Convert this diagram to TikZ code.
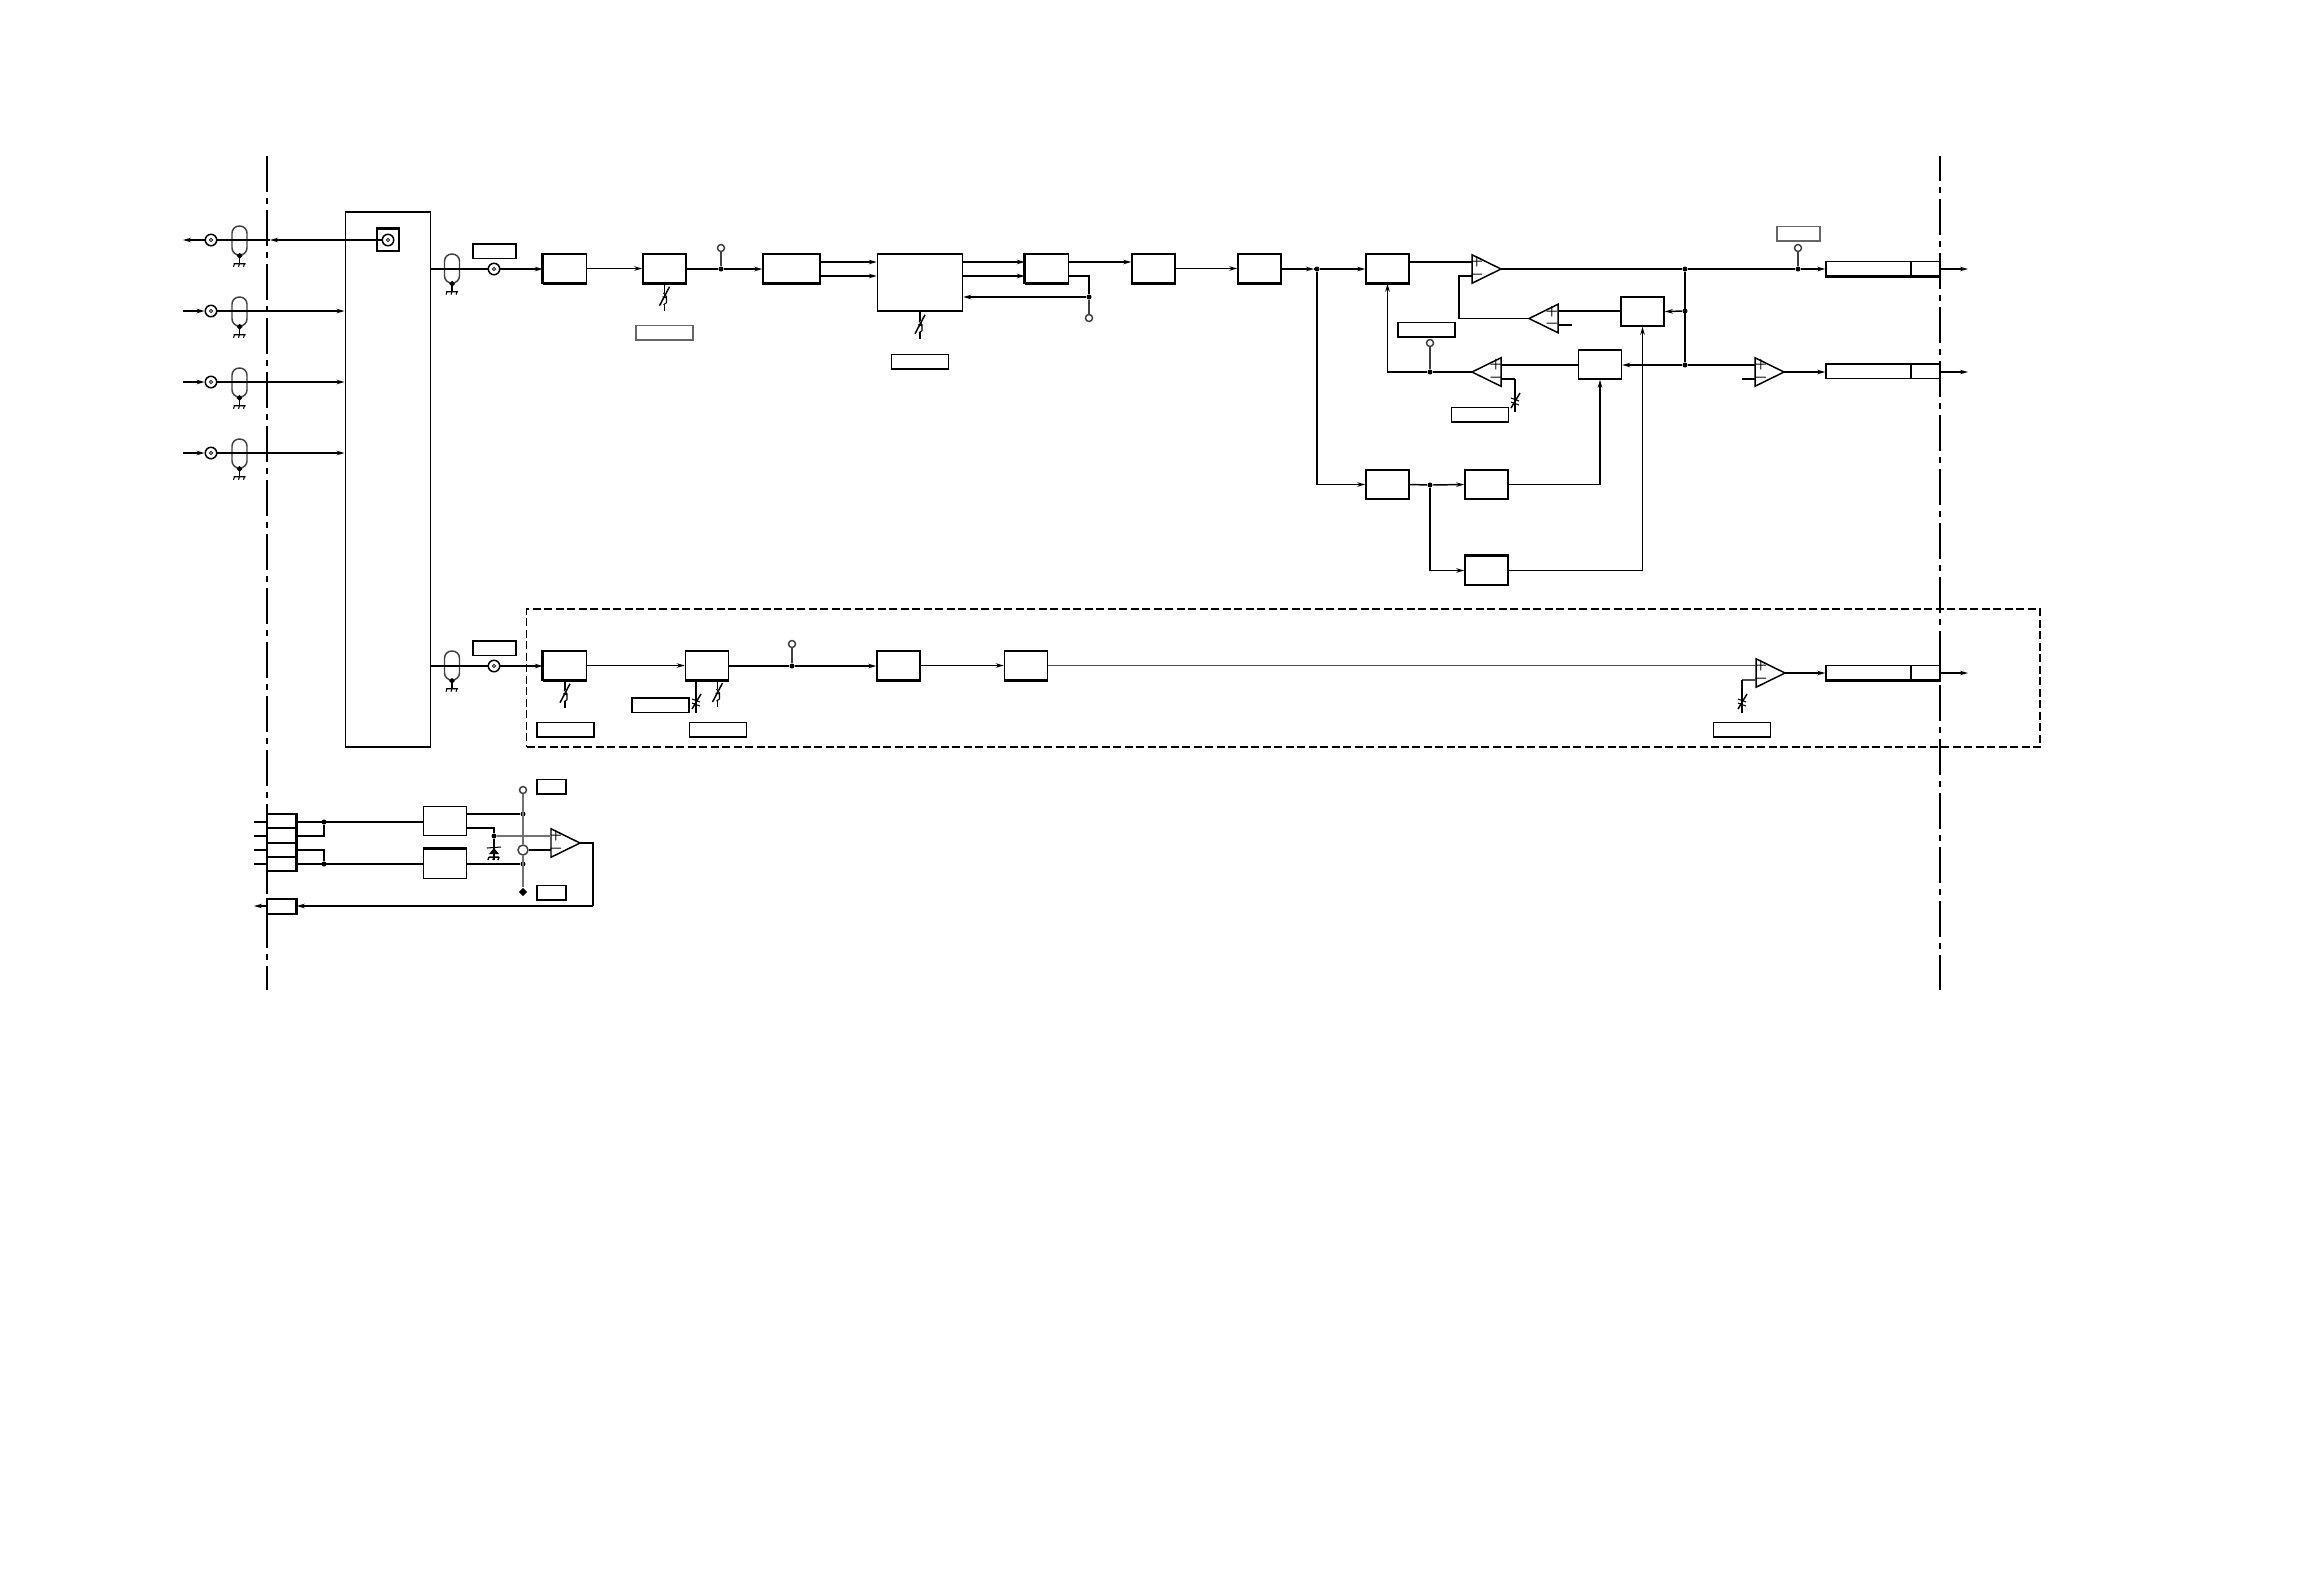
\documentclass[tikz,border=0pt]{standalone}
\usetikzlibrary{shapes.geometric, arrows.meta, positioning, calc}

\begin{document}
\begin{tikzpicture}[
        x=0.1mm, y=-0.1mm,
        line width=0.42pt,
        blockbox/.style={rectangle, draw=black, inner sep=0pt, minimum width=4.3mm, minimum height=2.9mm},
        tagbox/.style={rectangle, draw=black, inner sep=0pt, minimum width=5.7mm, minimum height=1.45mm},
        shorttag/.style={tagbox, minimum width=4.3mm},
        tinytag/.style={tagbox, minimum width=2.9mm},
        paletag/.style={draw=black!60},
        outbox/.style={rectangle, draw=black, inner sep=0pt, minimum width=11.4mm, minimum height=1.45mm},
        bottomedge/.style={append after command={(\tikzlastnode.south west) edge[heavyedge] (\tikzlastnode.south east)}},
        topedge/.style={append after command={(\tikzlastnode.north west) edge[heavyedge] (\tikzlastnode.north east)}},
        leftedge/.style={append after command={(\tikzlastnode.north west) edge[heavyedge] (\tikzlastnode.south west)}},
        rightedge/.style={append after command={(\tikzlastnode.north east) edge[heavyedge] (\tikzlastnode.south east)}},
        heavyedge/.style={line width=0.85pt},
        opamp/.style={isosceles triangle, isosceles triangle stretches, draw=black, inner sep=0pt, outer sep=0pt, anchor=apex, minimum width=2.85mm, minimum height=2.9mm},
        sign/.style={inner sep=0pt, font=\fontsize{3.2}{3.4}\selectfont\bfseries},
        dotjoin/.style={circle, fill=black, inner sep=0pt, minimum size=0.5mm},
        openpad/.style={circle, draw=black!75, fill=white, inner sep=0pt, minimum size=0.7mm},
        coaxpad/.style={circle, draw=black, fill=white, inner sep=0pt, minimum size=1.15mm, path picture={\draw[line width=0.2pt] (path picture bounding box.center) circle (0.17mm);}},
        capsule/.style={rectangle, draw=black!75, inner sep=0pt, rounded corners=0.72mm, minimum width=1.5mm, minimum height=2.9mm},
        arrow/.style={-{Stealth[length=0.8mm, width=0.45mm]}},
        borderline/.style={line width=0.5pt, dash pattern=on 3.6mm off 0.6mm on 0.6mm off 0.6mm},
        groundpin/.pic={
            \fill (0,-3) -- (3,0) -- (0,3) -- (-3,0) -- cycle;
            \draw (0,0) -- (0,8);
            \draw[line width=0.3pt] (-6,8) -- (6,8) (-5,8) -- (-6,11) (0,8) -- (-1,11) (5,8) -- (4,11);
        },
        trimloop/.pic={
            \draw (0,0) -- (0,9) (0,20) -- (0,27);
            \draw (5,3) -- (-5,22);
            \draw[line width=0.3pt] (-1,9) -- (2,13) -- (2,19) -- (-1,21) (-2,13) -- (2,14);
        },
        trimcross/.pic={
            \draw (0,0) -- (0,33);
            \draw (5,14) -- (-4,29);
            \draw[line width=0.3pt] (-4,19) -- (4,22) (-4,23) -- (4,26);
        }
    ]
        \useasboundingbox (0,0) rectangle (2324,1588);

        \coordinate (borderLtop) at (267,156);
        \coordinate (borderLend) at (267,990);
        \coordinate (borderRtop) at (1940,156);
        \coordinate (borderRend) at (1940,990);
        \draw[borderline] (borderLtop) -- (borderLend);
        \draw[borderline, dash phase=1.1mm] (borderRtop) -- (borderRend);

        % input side
        \node[rectangle, draw=black, inner sep=0pt, minimum width=8.55mm, minimum height=53.5mm] (matrixbox) at (388,479.5) {};
        \node[rectangle, draw=black, inner sep=0pt, minimum size=2.2mm, topedge] (jackbox) at (388,240) {};
        \node[coaxpad] (jackpad) at (388,240) {};

        \coordinate (outA) at (183,240);
        \coordinate (inB) at (183,311);
        \coordinate (inC) at (183,382);
        \coordinate (inD) at (183,453);
        \coordinate (borderA) at (270,240);
        \node[coaxpad] (padA) at (211,240) {};
        \node[coaxpad] (padB) at (211,311) {};
        \node[coaxpad] (padC) at (211,382) {};
        \node[coaxpad] (padD) at (211,453) {};
        \node[capsule] (capA) at (239.5,240.5) {};
        \node[capsule] (capB) at (239.5,311.5) {};
        \node[capsule] (capC) at (239.5,382.5) {};
        \node[capsule] (capD) at (239.5,453.5) {};
        \pic at (capA.south) {groundpin};
        \pic at (capB.south) {groundpin};
        \pic at (capC.south) {groundpin};
        \pic at (capD.south) {groundpin};

        \draw[arrow] (jackpad.west) -- (borderA);
        \draw (borderA) -- (padA.east);
        \draw[arrow] (padA.west) -- (outA);
        \draw[arrow] (inB) -- (padB.west);
        \draw[arrow] (inC) -- (padC.west);
        \draw[arrow] (inD) -- (padD.west);
        \draw[arrow] (padB.east) -- (padB -| matrixbox.west);
        \draw[arrow] (padC.east) -- (padC -| matrixbox.west);
        \draw[arrow] (padD.east) -- (padD -| matrixbox.west);

        % upper channel
        \node[capsule] (capE) at (452,268.5) {};
        \pic at (capE.south) {groundpin};
        \node[coaxpad] (padE) at (494,269) {};
        \node[shorttag] (tagE) at (494.5,251) {};
        \node[blockbox, bottomedge, leftedge] (mixbox) at (565,268.5) {};
        \node[blockbox, bottomedge] (attbox) at (664.5,268.5) {};
        \node[shorttag, paletag, minimum width=5.7mm] (tagatt) at (664.5,332.5) {};
        \node[dotjoin] (jtest) at (721,269) {};
        \node[openpad] (optest) at (721,248) {};
        \node[blockbox, bottomedge, minimum width=5.7mm] (splitbox) at (791.5,268.5) {};
        \node[blockbox, minimum width=8.5mm, minimum height=5.7mm] (corebox) at (920,282.5) {};
        \node[tagbox] (tagcore) at (920,361.5) {};
        \node[blockbox, bottomedge, leftedge] (sumbox) at (1047,268.5) {};
        \node[blockbox, bottomedge] (delaybox) at (1153.5,268.5) {};
        \node[blockbox, bottomedge] (filtbox) at (1259.5,268.5) {};
        \node[dotjoin] (jfb) at (1089,297) {};
        \node[openpad] (opfb) at (1089,318) {};
        \pic at (attbox.south) {trimloop};
        \pic at (corebox.south) {trimloop};

        \coordinate (matrixE) at (431,269);
        \coordinate (splitU) at (820,262);
        \coordinate (splitL) at (820,276);
        \coordinate (coreU) at (962.5,262);
        \coordinate (coreL) at (962.5,276);
        \coordinate (sumU) at (1068,262);
        \coordinate (sumL) at (1068,276);
        \draw (matrixE) -- (padE.west);
        \draw[arrow] (padE.east) -- (padE -| mixbox.west);
        \draw[arrow] (mixbox.east) -- (attbox.west);
        \draw (attbox.east |- jtest) -- (jtest);
        \draw[arrow] (jtest) -- (jtest -| splitbox.west);
        \draw[draw=black!75] (jtest) -- (optest);
        \draw[arrow] (splitU) -- (splitU -| corebox.west);
        \draw[arrow] (splitL) -- (splitL -| corebox.west);
        \draw[arrow] (coreU) -- (coreU -| sumbox.west);
        \draw[arrow] (coreL) -- (coreL -| sumbox.west);
        \draw[arrow] (sumU) -- (sumU -| delaybox.west);
        \draw (sumL) -| (jfb);
        \draw[arrow] (jfb) -- (jfb -| corebox.east);
        \draw[draw=black!75] (jfb) -- (opfb);

        % agc section
        \coordinate (filtE) at (1281,269);
        \coordinate (arrivefork) at (1314,269);
        \node[dotjoin] (jfork) at (1317,269) {};
        \draw[arrow] (delaybox.east) -- (filtbox.west);
        \draw[arrow] (filtE) -- (arrivefork);
        \draw (arrivefork) -- (jfork);

        \node[blockbox, bottomedge] (gainbox) at (1387.5,268.5) {};
        \node[opamp] (ampmain) at (1501,269) {};
        \node[sign] (ampmainP) at (1477,262) {+};
        \node[sign] (ampmainM) at (1477,276) {−};
        \node[blockbox] (detbox) at (1642.5,311.5) {};
        \node[opamp, shape border rotate=180] (ampfb) at (1529,318.5) {};
        \node[sign] (ampfbP) at (1552,312) {+};
        \node[sign] (ampfbM) at (1552,325) {−};
        \node[tagbox] (tagfb) at (1426.5,329.5) {};
        \node[openpad] (opgain) at (1430,343) {};
        \node[dotjoin] (jgain) at (1430,372) {};
        \node[blockbox] (levelbox) at (1600,364.5) {};
        \node[opamp, shape border rotate=180] (ampgain) at (1472,372) {};
        \node[sign] (ampgainP) at (1496,365) {+};
        \node[sign] (ampgainM) at (1496,379) {−};
        \node[tagbox] (taglevel) at (1480,414.5) {};
        \node[blockbox] (syncbox) at (1387.5,484.5) {};
        \node[dotjoin] (jsync) at (1430,485) {};
        \node[blockbox] (clampbox) at (1486.5,484.5) {};
        \node[blockbox, topedge] (holdbox) at (1486.5,570.5) {};
        \node[dotjoin] (jmain) at (1685,269) {};
        \node[dotjoin] (jdet) at (1685,311) {};
        \node[dotjoin] (jlevel) at (1685,365) {};
        \node[dotjoin] (jout) at (1798,269) {};
        \node[openpad] (opout) at (1798,248) {};
        \node[tagbox, paletag, minimum width=4.3mm] (tagout) at (1798.5,233.5) {};
        \node[opamp] (ampout) at (1784,372) {};
        \node[sign] (ampoutP) at (1761,365) {+};
        \node[sign] (ampoutM) at (1761,379) {−};
        \node[outbox, bottomedge] (portA) at (1883,268.5) {};
        \node[outbox] (portB) at (1883,371) {};

        \coordinate (gainU) at (1409,262);
        \coordinate (mainM) at (1472,276);
        \coordinate (fbstub) at (1572,325);
        \coordinate (fbback) at (1558,325);
        \coordinate (gainstub) at (1515,379);
        \coordinate (gainback) at (1501,379);
        \coordinate (outstub) at (1742,379);
        \coordinate (outback) at (1756,379);
        \coordinate (portAout) at (1968,269);
        \coordinate (portBout) at (1968,372);
        \draw[arrow] (jfork) -- (jfork -| gainbox.west);
        \draw (gainU) -- (gainU -| ampmain.left corner);
        \draw (ampmain.apex) -- (jmain);
        \draw (jmain) -- (jout);
        \draw[arrow] (jout) -- (jout -| portA.west);
        \draw[draw=black!75] (jout) -- (opout);
        \draw (jmain) -- (jlevel);
        \draw[arrow] (jdet) -- (detbox.east);
        \draw[arrow] (jlevel) -- (jlevel -| levelbox.east);
        \draw (detbox.west |- jdet) -- (jdet -| ampfb.left corner);
        \draw (levelbox.west |- jlevel) -- (jlevel -| ampgain.left corner);
        \draw (ampfb.apex) -| (1459,276) -- (mainM);
        \draw (fbback) -- (fbstub);
        \draw (gainback) -| (gainstub);
        \pic at (gainstub) {trimcross};
        \draw (ampgain.apex) -- (jgain);
        \draw[arrow] (jgain) -| (gainbox.south);
        \draw[draw=black!75] (jgain) -- (opgain);
        \draw[arrow] (jfork) |- (syncbox.west);
        \draw (syncbox.east) -- (jsync);
        \draw[arrow] (jsync) -- (clampbox.west);
        \draw[arrow] (clampbox.east) -| (levelbox.south);
        \draw[arrow] (jsync) |- (holdbox.west);
        \draw[arrow] (holdbox.east) -| (detbox.south);
        \draw (jlevel) -- (jlevel -| ampout.left corner);
        \draw (outstub) -- (outback);
        \draw[arrow] (ampout.apex) -- (ampout.apex -| portB.west);
        \draw[arrow] (portA.east |- jout) -- (portAout);
        \draw[arrow] (portB.east |- portBout) -- (portBout);
        \coordinate (portAdiv) at (1911,261);
        \coordinate (portBdiv) at (1911,364);
        \draw (portAdiv) -- ++(0,14);
        \draw (portBdiv) -- ++(0,14);

        % lower channel
        \node[rectangle, draw=black, dash pattern=on 0.8mm off 0.35mm, inner sep=0pt, minimum width=151.35mm, minimum height=13.8mm] (optionbox) at (1283.25,678) {};
        \node[capsule] (capF) at (452,665.5) {};
        \pic at (capF.south) {groundpin};
        \node[coaxpad] (padF) at (494,666) {};
        \node[shorttag] (tagF) at (494.5,648) {};
        \node[blockbox, bottomedge, leftedge] (mixboxB) at (565,665.5) {};
        \node[blockbox, bottomedge] (attboxB) at (707,665.5) {};
        \node[dotjoin] (jtestB) at (792,666) {};
        \node[openpad] (optestB) at (792,644) {};
        \node[blockbox, bottomedge] (filtboxB) at (898.5,665.5) {};
        \node[blockbox, bottomedge] (delayboxB) at (1026,665.5) {};
        \node[tagbox] (tagmixB) at (565.5,729.5) {};
        \node[tagbox] (tagattB) at (660.5,705) {};
        \node[tagbox] (tagattC) at (718,729.5) {};
        \node[tagbox] (tagoutB) at (1742,729.5) {};
        \node[opamp] (ampoutB) at (1785,673) {};
        \node[sign] (ampoutBP) at (1761,666) {+};
        \node[sign] (ampoutBM) at (1761,680) {−};
        \node[outbox, bottomedge] (portC) at (1883,672.5) {};
        \pic at (mixboxB.south) {trimloop};
        \pic at (696,680) {trimcross};
        \pic at (717.5,680) {trimloop};

        \coordinate (matrixF) at (431,666);
        \coordinate (outstubB) at (1742,680);
        \coordinate (outbackB) at (1756,680);
        \coordinate (portCdiv) at (1911,665);
        \coordinate (portCout) at (1968,673);
        \draw (matrixF) -- (padF.west);
        \draw[arrow] (padF.east) -- (padF -| mixboxB.west);
        \draw[arrow] (mixboxB.east) -- (attboxB.west);
        \draw (attboxB.east |- jtestB) -- (jtestB);
        \draw[arrow] (jtestB) -- (jtestB -| filtboxB.west);
        \draw[draw=black!75] (jtestB) -- (optestB);
        \draw[arrow] (filtboxB.east) -- (delayboxB.west);
        \draw[draw=black!70] (delayboxB.east) -- (delayboxB.east -| ampoutB.left corner);
        \draw[draw=black!70] (outbackB) -- (outstubB);
        \pic at (outstubB) {trimcross};
        \draw[arrow] (ampoutB.apex) -- (ampoutB.apex -| portC.west);
        \draw[arrow] (portC.east |- portCout) -- (portCout);
        \draw (portCdiv) -- ++(0,14);

        % power section
        \node[rectangle, draw=black, inner sep=0pt, minimum width=2.9mm, minimum height=5.7mm, rightedge] (plugbox) at (281.5,842.5) {};
        \coordinate (plugA) at (267,828);
        \coordinate (plugB) at (267,843);
        \coordinate (plugC) at (267,857);
        \draw (plugA) -- (plugA -| plugbox.east);
        \draw (plugB) -- (plugB -| plugbox.east);
        \draw (plugC) -- (plugC -| plugbox.east);
        \node[blockbox] (regpos) at (445,821) {};
        \node[blockbox, topedge] (regneg) at (445,864) {};
        \node[dotjoin] (jpinA) at (324,822) {};
        \node[dotjoin] (jpinB) at (324,864) {};
        \node[dotjoin] (jrailU) at (523,814) {};
        \node[dotjoin] (jrailL) at (523,864) {};
        \node[dotjoin] (jref) at (494,836) {};
        \node[openpad] (oprail) at (523,790) {};
        \node[circle, draw=black!75, fill=white, inner sep=0pt, minimum size=1mm] (oprefs) at (523,850) {};
        \node[diamond, fill=black, inner sep=0pt, minimum size=0.9mm] (railpin) at (523,892) {};
        \node[tinytag] (tagU) at (551.5,786.5) {};
        \node[tinytag] (tagL) at (551.5,892.5) {};
        \node[opamp] (ampref) at (580,843) {};
        \node[sign] (amprefP) at (556,836) {+};
        \node[sign] (amprefM) at (556,850) {−};
        \node[rectangle, draw=black, inner sep=0pt, minimum width=2.9mm, minimum height=1.5mm, rightedge] (sensebox) at (281.5,906.5) {};

        \coordinate (stubA) at (254,822);
        \coordinate (stubB) at (254,836);
        \coordinate (stubC) at (254,850);
        \coordinate (stubD) at (254,864);
        \coordinate (pinAr) at (296,822);
        \coordinate (pinBr) at (296,836);
        \coordinate (pinCr) at (296,850);
        \coordinate (pinDr) at (296,864);
        \coordinate (regposU) at (467,814);
        \coordinate (regposL) at (467,828);
        \coordinate (refbase) at (494,860);
        \coordinate (ampreturn) at (593,906);
        \coordinate (senseout) at (254,906);
        \draw (stubA) -- (stubA -| plugbox.west);
        \draw (stubB) -- (stubB -| plugbox.west);
        \draw (stubC) -- (stubC -| plugbox.west);
        \draw (stubD) -- (stubD -| plugbox.west);
        \draw (pinAr) -- (pinAr -| regpos.west);
        \draw (pinBr) -| (jpinA);
        \draw (pinCr) -| (jpinB);
        \draw (pinDr) -- (pinDr -| regneg.west);
        \draw (regposU) -- (jrailU);
        \draw (regposL) -| (jref);
        \draw (regneg.east |- jrailL) -- (jrailL);
        \draw[draw=black!55] (oprail) -- (oprefs);
        \draw[draw=black!55] (oprefs) -- (railpin);
        \draw[draw=black!55] (jref) -- (jref -| ampref.left corner);
        \draw (oprefs) -- (oprefs -| ampref.left corner);
        \draw (ampref.apex) -| (ampreturn);
        \draw[arrow] (ampreturn) -- (ampreturn -| sensebox.east);
        \draw[arrow] (sensebox.west |- senseout) -- (senseout);
        % reference diode
        \draw (jref) -- (refbase);
        \draw[line width=0.3pt] (487,848) -- (501,847);
        \fill (494,848) -- (489,854) -- (499,854) -- cycle;
        \draw (489,857) -- (499,857) (489,857) -- (488,860) (494,857) -- (493,860) (499,857) -- (498,860);
    \end{tikzpicture}
\end{document}
